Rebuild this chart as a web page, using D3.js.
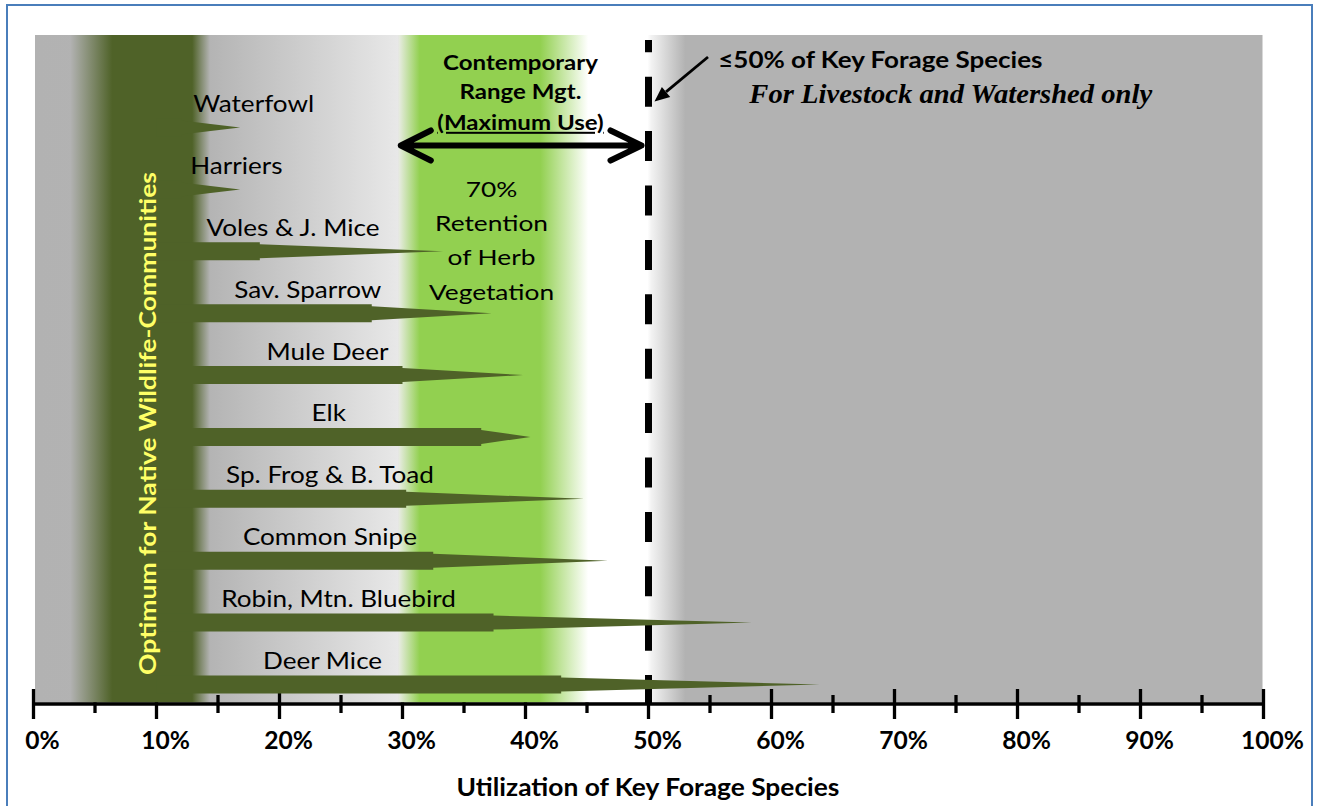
<!DOCTYPE html>
<html>
<head>
<meta charset="utf-8">
<script src="https://cdn.jsdelivr.net/npm/d3@7"></script>
<style>
  html, body { margin: 0; padding: 0; background: #fff; }
  svg { display: block; }
  text { font-family: Lato, "Noto Sans", sans-serif; }
</style>
</head>
<body>
<svg id="chart" width="1320" height="806"></svg>
<script>
// Wildlife groups, top to bottom
const species = ["Waterfowl", "Harriers", "Voles & J. Mice", "Sav. Sparrow", "Mule Deer",
                 "Elk", "Sp. Frog & B. Toad", "Common Snipe", "Robin, Mtn. Bluebird", "Deer Mice"];
// Utilization (%) up to which each group is fully tolerant (arrow body)
const fullTolerance = [12, 12, 18.4, 27.5, 30.0, 36.4, 30.3, 32.5, 37.4, 42.9];
// Utilization (%) at which each group's tolerance runs out (arrow tip)
const maxTolerance = [16.8, 16.8, 33.3, 37.25, 39.8, 40.4, 44.75, 46.7, 58.4, 63.9];
// Where each group's name sits along the utilization axis (%)
const nameAt = [17.9, 16.5, 21.1, 22.3, 23.9, 24.0, 24.1, 24.1, 24.8, 23.5];

const majorTicks = [0, 10, 20, 30, 40, 50, 60, 70, 80, 90, 100];
const minorTicks = [5, 15, 25, 35, 45, 55, 65, 75, 85, 95];
const tickLabels = ["0%", "10%", "20%", "30%", "40%", "50%", "60%", "70%", "80%", "90%", "100%"];

const optimumBand = [3.0, 6.4, 12.9, 14.35];       // fade-in, solid, solid, fade-out (%)
const contemporaryBand = [29.66, 31.4, 41.2, 45.1]; // green fade-in, solid, solid, fade to white (%)
const useLimit = 50;                                 // ≤50% of key forage species

const svg = d3.select("#chart");
const plotTop = 35, axisY = 704;

const x = d3.scaleLinear().domain([0, 100]).range([33.5, 1263.5]);
const y = d3.scalePoint().domain(species).range([127.5, 684.5]);

// Horizontal stretch needed for a font so that a sample string spans a given width
function stretchFor(size, weight, sample, width, family) {
  const t = svg.append("text").attr("font-size", size).attr("font-weight", weight)
    .style("font-family", family || null).text(sample);
  const w = t.node().getComputedTextLength();
  t.remove();
  return width / w;
}
// Text placed at (px, py), stretched horizontally by sx
function label(parent, str, px, py, o) {
  return parent.append("text")
    .attr("transform", `translate(${px},${py}) scale(${o.sx},1)`)
    .attr("text-anchor", o.anchor || "middle")
    .attr("font-size", o.size).attr("font-weight", o.weight || 400)
    .attr("fill", o.fill || "#000")
    .style("font-family", o.family || null)
    .style("font-style", o.italic ? "italic" : null)
    .text(str);
}

// outer frame
svg.append("rect").attr("x", 7).attr("y", 5).attr("width", 1305).attr("height", 830)
  .attr("fill", "#fff").attr("stroke", "#4a7ebb").attr("stroke-width", 2);

const defs = svg.append("defs");
function gradient(id, x1, x2, stops) {
  const g = defs.append("linearGradient").attr("id", id)
    .attr("gradientUnits", "userSpaceOnUse")
    .attr("x1", x1).attr("x2", x2).attr("y1", 0).attr("y2", 0);
  stops.forEach(([px, c]) => g.append("stop")
    .attr("offset", Math.max(0, Math.min(1, (px - x1) / (x2 - x1))))
    .attr("stop-color", c));
  return "url(#" + id + ")";
}

const plotL = x(0) + 1.5, plotR = x(100) - 1;
const gray = "#b2b2b2";
const bandH = axisY - 1.5 - plotTop;

// plot background: grey, lightening toward the contemporary range
svg.append("rect").attr("x", plotL).attr("y", plotTop).attr("width", plotR - plotL).attr("height", bandH)
  .attr("fill", gradient("bg", plotL, plotR, [
    [plotL, gray], [x(optimumBand[3]), "#b4b4b4"], [x(contemporaryBand[0]), "#e8e8e8"],
    [x(contemporaryBand[0]) + 1, gray], [plotR, gray]
  ]));

// axis ticks
svg.append("g").selectAll("line").data(majorTicks).join("line")
  .attr("x1", d => x(d)).attr("x2", d => x(d)).attr("y1", axisY - 15).attr("y2", axisY + 15)
  .attr("stroke", "#000").attr("stroke-width", 3.3);
svg.append("g").selectAll("line").data(minorTicks).join("line")
  .attr("x1", d => x(d)).attr("x2", d => x(d)).attr("y1", axisY - 9).attr("y2", axisY + 9)
  .attr("stroke", "#000").attr("stroke-width", 3.3);

// optimum band for native wildlife communities
const darkGreen = "#4f6228";
svg.append("rect").attr("x", x(optimumBand[0])).attr("y", plotTop)
  .attr("width", x(optimumBand[3]) - x(optimumBand[0])).attr("height", bandH)
  .attr("fill", gradient("opt", x(optimumBand[0]), x(optimumBand[3]), [
    [x(optimumBand[0]), gray], [x(optimumBand[1]), darkGreen],
    [x(optimumBand[2]), darkGreen], [x(optimumBand[3]), "#b4b4b4"]
  ]));

// contemporary range management band, white toward the use limit
const lightGreen = "#92d050";
const cbL = x(contemporaryBand[0]), cbR = x(useLimit + 3);
svg.append("rect").attr("x", cbL).attr("y", plotTop).attr("width", cbR - cbL).attr("height", bandH)
  .attr("fill", gradient("cont", cbL, cbR, [
    [cbL, "#eaece6"], [x(contemporaryBand[1]), lightGreen], [x(contemporaryBand[2]), lightGreen],
    [x(contemporaryBand[3]), "#ffffff"], [x(useLimit) - 1, "#ffffff"], [x(useLimit) + 3, "#f2f2f2"],
    [cbR, gray]
  ]));

// axis line
svg.append("line").attr("x1", x(0)).attr("x2", x(100)).attr("y1", axisY).attr("y2", axisY)
  .attr("stroke", "#000").attr("stroke-width", 3.5);

// tick labels
const tickFont = { size: 25, weight: 700 };
tickFont.sx = stretchFor(25, 700, "100%", 63);
const tickG = svg.append("g");
majorTicks.forEach((d, i) => label(tickG, tickLabels[i], x(d) + 9, 748.5, tickFont));

// axis title
label(svg, "Utilization of Key Forage Species", 648, 796,
  { size: 24, weight: 700, sx: stretchFor(24, 700, "Utilization of Key Forage Species", 383) });

// use limit (dashed)
svg.append("line").attr("x1", x(useLimit)).attr("x2", x(useLimit)).attr("y1", plotTop + 5).attr("y2", axisY)
  .attr("stroke", "#000").attr("stroke-width", 7)
  .attr("stroke-dasharray", "30,24.4").attr("stroke-dashoffset", 17.7);

// tolerance arrows
const bodyHalf = 9, headHalf = 7;
const arrowLine = d3.line();
svg.append("g").selectAll("path").data(species).join("path")
  .attr("d", (d, i) => {
    const cy = y(d), xs = x(10), xb = x(fullTolerance[i]), xt = x(maxTolerance[i]);
    return arrowLine([[xs, cy - bodyHalf], [xb, cy - bodyHalf], [xb, cy - headHalf], [xt, cy],
      [xb, cy + headHalf], [xb, cy + bodyHalf], [xs, cy + bodyHalf]]) + "Z";
  })
  .attr("fill", darkGreen);

// species names
const nameFont = { size: 23, weight: 400, sx: stretchFor(23, 400, "Voles & J. Mice", 173) };
const nameG = svg.append("g");
species.forEach((d, i) => label(nameG, d, x(nameAt[i]), y(d) - 15.5, nameFont));

// vertical label in the optimum band
svg.append("text")
  .attr("transform", `translate(${x(9.2)},${423.5}) rotate(-90) scale(${stretchFor(23, 700, "Optimum for Native Wildlife-Communities", 503)},1)`)
  .attr("text-anchor", "middle").attr("dominant-baseline", "central")
  .attr("font-weight", 700).attr("font-size", 23).attr("fill", "#ffff66")
  .text("Optimum for Native Wildlife-Communities");

// contemporary range heading
const headFont = { size: 20, weight: 700, sx: stretchFor(20, 700, "Contemporary", 155) };
const headX = 520.5;
label(svg, "Contemporary", headX, 69.5, headFont);
label(svg, "Range Mgt.", headX, 99, headFont);
label(svg, "(Maximum Use)", headX, 130, headFont).style("text-decoration", "underline");

// double-headed arrow spanning the contemporary range
const ay = 145.5;
const xl = x(contemporaryBand[0]) + 2.5, xr = x(useLimit) - 7;
svg.append("path")
  .attr("d", `M${xl + 30},${ay - 15}L${xl},${ay}L${xl + 30},${ay + 15}M${xl},${ay}L${xr},${ay}` +
             `M${xr - 31},${ay - 15}L${xr},${ay}L${xr - 31},${ay + 15}`)
  .attr("fill", "none").attr("stroke", "#000").attr("stroke-width", 6)
  .attr("stroke-linecap", "round").attr("stroke-linejoin", "round");

// retention text
const retFont = { size: 21, weight: 400, sx: stretchFor(21, 400, "Retention", 113) };
["70%", "Retention", "of Herb", "Vegetation"].forEach((t, i) =>
  label(svg, t, 491.5, 197 + i * 34.2, retFont));

// pointer to the use limit
const tip = [x(useLimit) + 6, 101.5], tail = [708, 57];
const ang = Math.atan2(tail[1] - tip[1], tail[0] - tip[0]);
const hl = 15, hw = 6.5;
const base = [tip[0] + hl * Math.cos(ang), tip[1] + hl * Math.sin(ang)];
svg.append("line").attr("x1", tail[0]).attr("y1", tail[1]).attr("x2", base[0]).attr("y2", base[1])
  .attr("stroke", "#000").attr("stroke-width", 2.8);
svg.append("path")
  .attr("d", d3.line()([tip,
    [base[0] - hw * Math.sin(ang), base[1] + hw * Math.cos(ang)],
    [base[0] + hw * Math.sin(ang), base[1] - hw * Math.cos(ang)]]) + "Z")
  .attr("fill", "#000");

label(svg, "≤50% of Key Forage Species", 718.3, 68.3,
  { size: 23, weight: 700, anchor: "start", sx: stretchFor(23, 700, "≤50% of Key Forage Species", 324.4) });
const serif = "'Liberation Serif', 'Times New Roman', serif";
const italicSample = "For Livestock and Watershed only";
const italicProbe = svg.append("text").attr("font-size", 27.5).attr("font-weight", 700)
  .style("font-family", serif).style("font-style", "italic").text(italicSample);
const italicSx = 403 / italicProbe.node().getComputedTextLength();
italicProbe.remove();
label(svg, italicSample, 749.3, 103.3,
  { size: 27.5, weight: 700, anchor: "start", family: serif, italic: true, sx: italicSx });
</script>
</body>
</html>
